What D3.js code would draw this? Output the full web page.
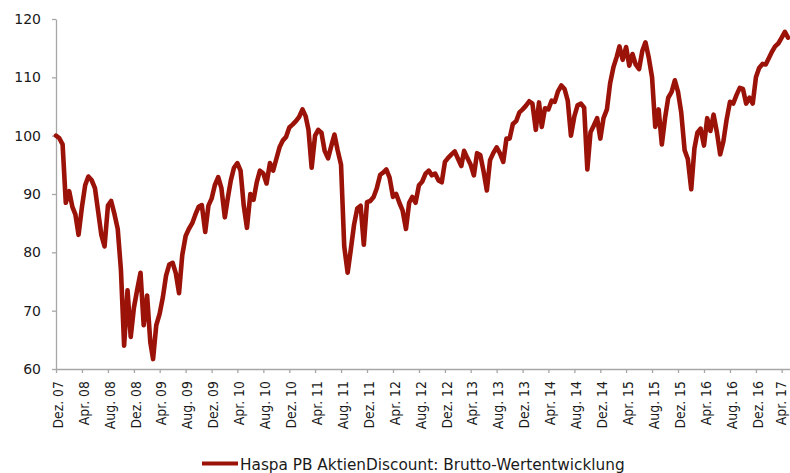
<!DOCTYPE html>
<html lang="de">

<head>
  <meta charset="UTF-8">
  <title>Haspa PB AktienDiscount</title>
  <script src="https://cdn.jsdelivr.net/npm/d3@7/dist/d3.min.js"></script>
  <style>
    body {
      margin: 0;
      background: #ffffff;
      font-family: 'DejaVu Sans', sans-serif;
    }

    svg {
      display: block;
    }

    .axis path,
    .axis line {
      stroke: #a6a6a6;
      stroke-width: 1.3;
    }

    .axis text {
      fill: #1a1a1a;
      font-family: 'DejaVu Sans', sans-serif;
    }
  </style>
</head>

<body>
  <svg id="chart"></svg>

  <script>
    // Brutto-Wertentwicklung, zwei Werte je Monat (1. und 16.)
    const v2007 = [100, 99.6];
    const v2008 = [98.5, 88.5, 90.5, 87.8, 86.5, 83, 87.8, 91.5, 93, 92.4, 91, 87,
      83, 81, 88, 88.8, 86.5, 84, 77, 64, 73.5, 65.5, 70.5, 73.5];
    const v2009 = [76.5, 67.5, 72.6, 64.6, 61.7, 67.5, 69.5, 72.3, 76, 77.9, 78.2, 76.4,
      73, 79.5, 82.8, 84, 85, 86.5, 87.8, 88.1, 83.5, 88, 89.2, 91.5];
    const v2010 = [92.9, 91, 86, 89.5, 92.3, 94.5, 95.3, 94, 88, 84.2, 90, 89,
      92, 94, 93.5, 91.8, 95.3, 94, 96, 98, 99.2, 99.8, 101.4, 101.9];
    const v2011 = [102.5, 103.2, 104.5, 103.3, 101, 94.5, 100, 101, 100.5, 97.4, 96.1, 98.2,
      100.2, 97.5, 95, 81, 76.5, 80.5, 84.7, 87.5, 88, 81.3, 88.6, 88.8];
    const v2012 = [89.5, 91, 93.3, 93.7, 94.2, 92.8, 89.5, 90, 88.5, 87.2, 84, 88.5,
      89.5, 88.5, 91.5, 92.1, 93.5, 94, 93.2, 93.5, 92.3, 92, 95.5, 96.2];
    const v2013 = [96.8, 97.3, 96, 94.8, 97.4, 96.2, 95, 93.2, 97, 96.7, 93.8, 90.6,
      95.8, 97, 98, 97, 95.5, 99.5, 99.5, 102, 102.5, 104, 104.5, 105.1];
    const v2014 = [105.9, 105.5, 101, 105.7, 101.5, 104.7, 104.5, 106, 105.8, 107.6, 108.6, 108,
      106, 100, 103.3, 105.2, 105.5, 104.8, 94.2, 100.6, 101.8, 103, 99.5, 103];
    const v2015 = [104.5, 109, 111.8, 113.5, 115.3, 113, 115.2, 112, 114, 112.2, 111.4, 114.5,
      116, 113.5, 110, 101.5, 104.5, 98.5, 103, 106.5, 107.5, 109.5, 107.5, 104];
    const v2016 = [97.5, 96, 90.8, 97.8, 100.5, 101.2, 98.3, 103, 100.8, 103.6, 100.5, 96.8,
      99, 102.7, 105.8, 105.5, 107, 108.2, 108, 105.5, 106.5, 105.5, 110, 111.6];
    const v2017 = [112.3, 112.2, 113.4, 114.5, 115.3, 115.8, 116.8, 117.8, 116.8];

    const tickLabels = [
      "Dez. 07", "Apr. 08", "Aug. 08", "Dez. 08", "Apr. 09", "Aug. 09", "Dez. 09",
      "Apr. 10", "Aug. 10", "Dez. 10", "Apr. 11", "Aug. 11", "Dez. 11", "Apr. 12",
      "Aug. 12", "Dez. 12", "Apr. 13", "Aug. 13", "Dez. 13", "Apr. 14", "Aug. 14",
      "Dez. 14", "Apr. 15", "Aug. 15", "Dez. 15", "Apr. 16", "Aug. 16", "Dez. 16", "Apr. 17"
    ];
    const yTicks = [60, 70, 80, 90, 100, 110, 120];
    const seriesName = "Haspa PB AktienDiscount: Brutto-Wertentwicklung";

    const width = 790;
    const height = 473;

    const yearSeries = [
      [2007, v2007, 11], [2008, v2008, 0], [2009, v2009, 0], [2010, v2010, 0],
      [2011, v2011, 0], [2012, v2012, 0], [2013, v2013, 0], [2014, v2014, 0],
      [2015, v2015, 0], [2016, v2016, 0], [2017, v2017, 0]
    ];

    const data = yearSeries.flatMap(([year, values, firstMonth]) =>
      values.map((value, k) => ({
        date: new Date(year, firstMonth + Math.floor(k / 2), k % 2 ? 16 : 1),
        value
      }))
    );

    const tickDates = tickLabels.map((_, k) => d3.timeMonth.offset(new Date(2007, 11, 1), 4 * k));

    const svg = d3.select("#chart")
      .attr("width", width)
      .attr("height", height);

    const x = d3.scaleTime()
      .domain([new Date(2007, 11, 1), new Date(2017, 4, 10)])
      .range([56, 790]);

    const y = d3.scaleLinear()
      .domain([60, 120])
      .range([369, 19]);

    const xAxis = svg.append("g")
      .attr("class", "axis")
      .attr("transform", "translate(0,369)")
      .call(d3.axisBottom(x)
        .tickValues(tickDates)
        .tickFormat((d, i) => tickLabels[i])
        .tickSizeInner(4)
        .tickSizeOuter(0));

    // schmale, hohe Beschriftung wie im Original
    xAxis.selectAll("text")
      .attr("font-size", "14.5px")
      .attr("text-anchor", "end")
      .attr("transform", "rotate(-90) scale(0.86,1)")
      .attr("x", -14)
      .attr("y", (d, i) => i === tickLabels.length - 1 ? -1.5 : 1)
      .attr("dy", "0.36em");

    const yAxis = svg.append("g")
      .attr("class", "axis")
      .attr("transform", "translate(56,0)")
      .call(d3.axisLeft(y)
        .tickValues(yTicks)
        .tickSizeInner(4)
        .tickSizeOuter(0)
        .tickPadding(11));

    yAxis.selectAll("text")
      .attr("font-size", "14px");

    const line = d3.line()
      .x(d => x(d.date))
      .y(d => y(d.value))
      .curve(d3.curveLinear);

    svg.append("path")
      .datum(data)
      .attr("fill", "none")
      .attr("stroke", "#9b1208")
      .attr("stroke-width", 4.6)
      .attr("stroke-linejoin", "round")
      .attr("stroke-linecap", "round")
      .attr("d", line);

    // Legende
    const legend = svg.append("g")
      .attr("transform", "translate(202,463.5)");

    legend.append("line")
      .attr("x1", 0)
      .attr("x2", 36)
      .attr("stroke", "#9b1208")
      .attr("stroke-width", 4.2);

    legend.append("text")
      .attr("x", 38)
      .attr("y", 6.5)
      .attr("font-size", "15.3px")
      .attr("fill", "#1a1a1a")
      .text(seriesName);
  </script>
</body>

</html>
